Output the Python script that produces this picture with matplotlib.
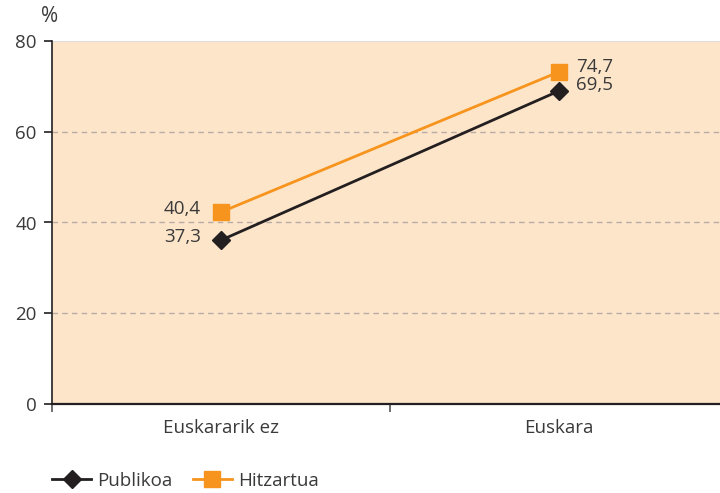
import matplotlib
matplotlib.use('Agg')
import matplotlib.pyplot as plt
from matplotlib.lines import Line2D

plt.rcParams['font.family'] = ['Open Sans', 'DejaVu Sans']

categories = ['Euskararik ez', 'Euskara']
publikoa = [36.1, 69.0]
hitzartua = [42.3, 73.2]
publikoa_labels = ['37,3', '69,5']
hitzartua_labels = ['40,4', '74,7']

black = '#231f20'
orange = '#f7941d'
bg = '#fde5ca'
text_col = '#3a3a3a'
fs = 13.5

fig = plt.figure(figsize=(7.2, 4.93), dpi=100)
ax = fig.add_axes([52/720, 1-404/493, 676/720, 363/493])
ax.set_facecolor(bg)

x = [0.5, 1.5]
ax.plot(x, publikoa, color=black, lw=2, marker='D', ms=9, zorder=3)
ax.plot(x, hitzartua, color=orange, lw=2, marker='s', ms=11, zorder=3)

# value labels
ax.text(x[0] - 0.06, hitzartua[0] + 0.7, hitzartua_labels[0], ha='right', va='center', fontsize=fs, color=text_col)
ax.text(x[0] - 0.06, publikoa[0] + 0.6, publikoa_labels[0], ha='right', va='center', fontsize=fs, color=text_col)
ax.text(x[1] + 0.05, hitzartua[1] + 1.1, hitzartua_labels[1], ha='left', va='center', fontsize=fs, color=text_col)
ax.text(x[1] + 0.05, publikoa[1] + 1.2, publikoa_labels[1], ha='left', va='center', fontsize=fs, color=text_col)

ax.set_xlim(0, 2)
ax.set_ylim(0, 80)
ax.set_yticks([0, 20, 40, 60, 80])
ax.set_xticks([0, 1, 2])
ax.set_xticklabels([])
ax.set_xticks(x, minor=True)
ax.set_xticklabels(categories, minor=True)
ax.tick_params(axis='x', which='minor', length=0, pad=11, labelsize=fs, labelcolor=text_col)
ax.tick_params(axis='x', which='major', length=6, width=1.2, color='#555555')
ax.tick_params(axis='y', length=6, width=1.2, color=black, labelsize=fs, labelcolor=text_col, pad=5)

for y in [20, 40, 60]:
    ax.axhline(y, color='#b8aca4', lw=1.0, ls=(0, (4, 3)), zorder=1)
ax.axhline(80, color='#dddddd', lw=0.8, zorder=1)

ax.spines['top'].set_visible(False)
ax.spines['right'].set_visible(False)
ax.spines['left'].set_color(black)
ax.spines['bottom'].set_color(black)
ax.spines['left'].set_linewidth(1.2)
ax.spines['bottom'].set_linewidth(1.6)

fig.text(50/720, 1-17/493, '%', ha='center', va='center', fontsize=fs + 1.5, color=text_col)

handles = [Line2D([], [], color=black, lw=2, marker='D', ms=9),
           Line2D([], [], color=orange, lw=2, marker='s', ms=11)]
fig.legend(handles, ['Publikoa', 'Hitzartua'], loc='center left', bbox_to_anchor=(35/720, 1-481/493),
           ncol=2, frameon=False, fontsize=fs, handlelength=2.1, handletextpad=0.3,
           columnspacing=1.1, labelcolor=text_col)

fig.savefig('out.png', dpi=100)
